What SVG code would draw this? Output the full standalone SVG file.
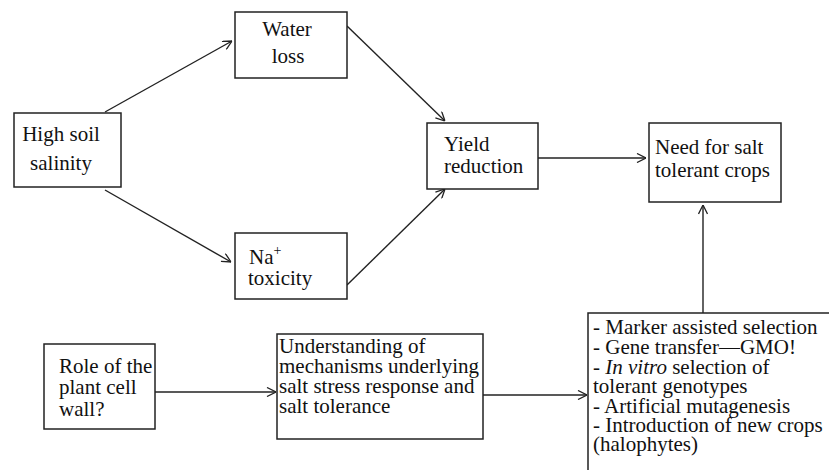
<svg xmlns="http://www.w3.org/2000/svg" width="829" height="470" viewBox="0 0 829 470">
<defs>
<marker id="arr" viewBox="0 0 10 10" refX="10" refY="5" markerWidth="10" markerHeight="10" markerUnits="userSpaceOnUse" orient="auto">
<path d="M1,0.5 L10,5 L1,9.5" fill="none" stroke="#222" stroke-width="1.3"/>
</marker>
</defs>
<style>
rect{fill:#fff;stroke:#222;stroke-width:1.5}
text{font-family:"Liberation Serif",serif;font-size:21px;fill:#111}
line{stroke:#222;stroke-width:1.4}
.a{marker-end:url(#arr)}
</style>
<g id="connectors">
<line class="a" x1="105" y1="112" x2="232" y2="41"/>
<line class="a" x1="105" y1="190" x2="231" y2="262"/>
<line class="a" x1="347" y1="26" x2="445" y2="121"/>
<line class="a" x1="347" y1="285" x2="445" y2="189"/>
<line class="a" x1="538" y1="158" x2="646" y2="158"/>
<line class="a" x1="703" y1="313" x2="703" y2="205"/>
<line class="a" x1="155" y1="392" x2="276" y2="392"/>
<line class="a" x1="483" y1="395" x2="587" y2="395"/>
</g>
<g id="high-soil">
<rect x="14" y="113" width="107" height="74"/>
<text x="61" y="141" text-anchor="middle">High soil</text>
<text x="61" y="170" text-anchor="middle">salinity</text>
</g>
<g id="water-loss">
<rect x="235" y="12" width="112" height="66"/>
<text x="287" y="36" text-anchor="middle">Water</text>
<text x="288" y="63" text-anchor="middle">loss</text>
</g>
<g id="na-toxicity">
<rect x="235" y="233" width="112" height="66"/>
<text x="249" y="264">Na<tspan dy="-9" font-size="14">+</tspan></text>
<text x="248" y="285">toxicity</text>
</g>
<g id="yield">
<rect x="427" y="123" width="111" height="66"/>
<text x="444" y="151">Yield</text>
<text x="444" y="173">reduction</text>
</g>
<g id="need">
<rect x="649" y="123" width="132" height="79"/>
<text x="655" y="154">Need for salt</text>
<text x="655" y="177">tolerant crops</text>
</g>
<g id="role">
<rect x="44" y="344" width="111" height="85"/>
<text x="59" y="373">Role of the</text>
<text x="59" y="394">plant cell</text>
<text x="59" y="416">wall?</text>
</g>
<g id="understanding">
<rect x="277" y="334" width="206" height="105"/>
<text x="279" y="353">Understanding of</text>
<text x="279" y="373">mechanisms underlying</text>
<text x="279" y="393">salt stress response and</text>
<text x="279" y="413">salt tolerance</text>
</g>
<g id="methods">
<rect x="588" y="313" width="260" height="200"/>
<text x="593" y="334">- Marker assisted selection</text>
<text x="593" y="354">- Gene transfer—GMO!</text>
<text x="593" y="373.5">- <tspan font-style="italic">In vitro</tspan> selection of</text>
<text x="593" y="393">tolerant genotypes</text>
<text x="593" y="412.5">- Artificial mutagenesis</text>
<text x="593" y="432">- Introduction of new crops</text>
<text x="593" y="451">(halophytes)</text>
</g>
</svg>
